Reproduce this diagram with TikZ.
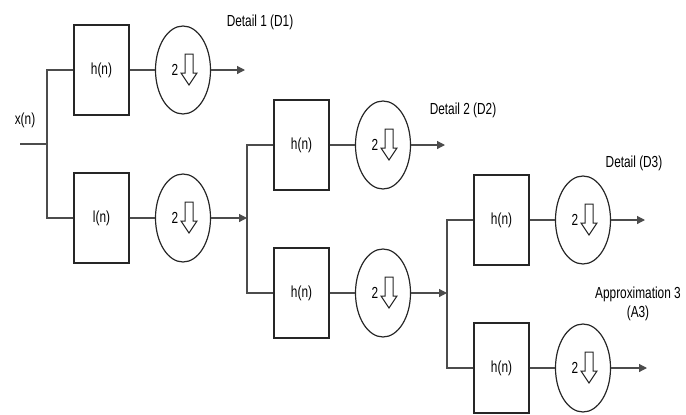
\documentclass[tikz,border=0pt]{standalone}
\usepackage{fontspec}
\setmainfont[FakeStretch=0.74]{Liberation Sans}
\usepackage{tikz}
\usetikzlibrary{arrows.meta,shapes.geometric}
\tikzset{
  filt/.style={draw=black!85, line width=1.3pt, minimum width=55pt, minimum height=90pt, inner sep=0pt},
  dsamp/.style={draw=black!85, line width=1.2pt, ellipse, minimum width=55pt, minimum height=88pt, inner sep=0pt},
  wire/.style={draw=black!70, line width=1.2pt},
  tip/.style={-{Triangle[length=8pt,width=8pt]}},
  lbl/.style={font=\fontsize{16}{19}\selectfont, inner sep=0pt, align=center}
}

\begin{document}
\begin{tikzpicture}[x=1pt,y=-1pt]
\useasboundingbox (0,0) rectangle (686,415);
\coordinate (in) at (20,144);
\node[lbl] (xn) at (25,120) {x(n)};
\foreach \s/\x/\y/\lab in {1/0/0/l(n),2/200/75/h(n),3/400/150/h(n)}{
  \coordinate (br\s) at (47+\x,144+\y);
  \node[filt,lbl] (ht\s) at (101.5+\x,70+\y) {h(n)};
  \node[filt,lbl] (hb\s) at (101.5+\x,218+\y) {\lab};
  \node[dsamp] (ct\s) at (183+\x,70+\y) {};
  \node[dsamp] (cb\s) at (183+\x,218+\y) {};
  \node[lbl] (twt\s) at ([xshift=-8pt]ct\s.center) {2};
  \node[lbl] (twb\s) at ([xshift=-8pt]cb\s.center) {2};
  \draw[black!85, line width=1pt, shift={(ct\s.center)}] (2,-16) -- (10,-16) -- (10,3) -- (14,3) -- (6,15) -- (-2,3) -- (2,3) -- cycle;
  \draw[black!85, line width=1pt, shift={(cb\s.center)}] (2,-16) -- (10,-16) -- (10,3) -- (14,3) -- (6,15) -- (-2,3) -- (2,3) -- cycle;
  \coordinate (ot\s) at (245+\x,70+\y);
  \coordinate (ob\s) at (247+\x,218+\y);
  \draw[wire] (br\s) |- (ht\s.west);
  \draw[wire] (br\s) |- (hb\s.west);
  \draw[wire] (ht\s.east) -- (ct\s.west);
  \draw[wire] (hb\s.east) -- (cb\s.west);
  \draw[wire,tip] (ct\s.east) -- (ot\s);
  \draw[wire,tip] (cb\s.east) -- (ob\s);
}
\draw[wire] (in) -- (br1);
\node[lbl] (d1) at (260,22) {Detail 1 (D1)};
\node[lbl] (d2) at (463,110) {Detail 2 (D2)};
\node[lbl] (d3) at (634,163) {Detail (D3)};
\node[lbl] (a3) at (638,304) {Approximation 3\\(A3)};
\end{tikzpicture}
\end{document}
